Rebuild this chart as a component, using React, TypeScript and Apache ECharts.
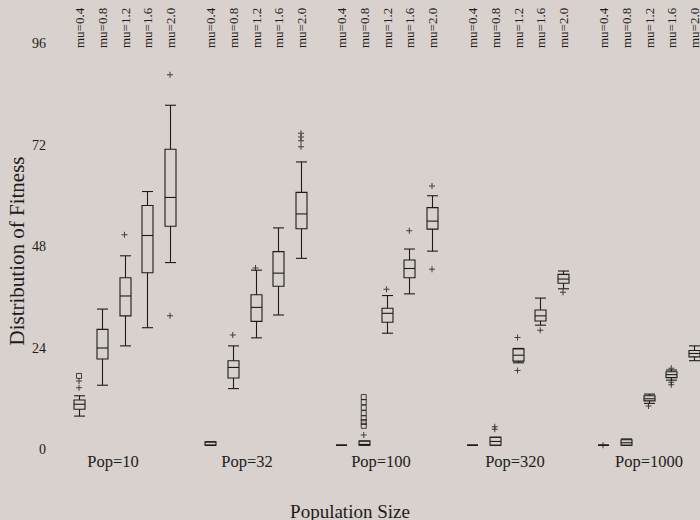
import React, { useEffect, useRef } from 'react';
import * as echarts from 'echarts';

const popLabels = ['Pop=10', 'Pop=32', 'Pop=100', 'Pop=320', 'Pop=1000'];
const muLabels = ['mu=0.4', 'mu=0.8', 'mu=1.2', 'mu=1.6', 'mu=2.0'];
const yTicks = [0, 24, 48, 72, 96];

// [lower whisker, Q1, median, Q3, upper whisker] for mu=0.4 .. mu=2.0
const pop10Boxes = [
  [7.9, 9.5, 10.7, 11.7, 12.7],
  [15.2, 21.4, 24.0, 28.4, 33.2],
  [24.5, 31.6, 36.3, 40.6, 45.8],
  [28.8, 41.8, 50.6, 57.7, 61.0],
  [44.2, 52.8, 59.6, 71.0, 81.4],
];
const pop32Boxes = [
  [1.0, 1.0, 1.0, 1.8, 1.8],
  [14.4, 16.9, 19.4, 21.0, 24.5],
  [26.4, 30.3, 33.6, 36.6, 42.4],
  [31.8, 38.6, 41.7, 46.8, 52.4],
  [45.2, 52.2, 55.7, 60.8, 68.0],
];
const pop100Boxes = [
  [1.0, 1.0, 1.0, 1.0, 1.0],
  [1.0, 1.0, 1.2, 2.0, 2.0],
  [27.5, 30.1, 32.2, 33.4, 36.4],
  [36.8, 40.6, 42.8, 44.8, 47.4],
  [46.9, 52.1, 54.0, 57.2, 60.0],
];
const pop320Boxes = [
  [1.0, 1.0, 1.0, 1.0, 1.0],
  [1.0, 1.0, 1.9, 2.9, 2.9],
  [20.5, 20.9, 22.3, 23.8, 23.9],
  [29.4, 30.4, 31.6, 33.0, 35.8],
  [38.0, 39.3, 40.3, 41.4, 42.2],
];
const pop1000Boxes = [
  [1.0, 1.0, 1.0, 1.0, 1.0],
  [1.0, 1.0, 1.6, 2.3, 2.5],
  [10.9, 11.5, 12.0, 12.7, 13.1],
  [16.4, 17.0, 17.7, 18.4, 18.8],
  [21.0, 21.9, 22.7, 23.4, 24.5],
];
const boxesByPop = [pop10Boxes, pop32Boxes, pop100Boxes, pop320Boxes, pop1000Boxes];

// outliers as [population index, mu index, value]
const plusOutliers = [
  [0, 0, 16.2], [0, 0, 14.6], [0, 2, 50.8], [0, 4, 88.6], [0, 4, 31.6],
  [1, 1, 27.1], [1, 2, 42.9], [1, 4, 71.6], [1, 4, 73.0], [1, 4, 73.9], [1, 4, 74.8],
  [2, 1, 3.4], [2, 2, 37.9], [2, 3, 51.7], [2, 4, 62.3], [2, 4, 42.6],
  [3, 1, 4.8], [3, 1, 5.4], [3, 2, 26.5], [3, 2, 18.7], [3, 3, 28.2], [3, 4, 37.2],
  [4, 0, 1.0], [4, 2, 10.3], [4, 3, 19.2], [4, 3, 15.9], [4, 3, 15.3],
];
const squareOutliers = [
  [0, 0, 17.4],
  [2, 1, 5.6], [2, 1, 6.5], [2, 1, 7.4], [2, 1, 8.6], [2, 1, 9.9], [2, 1, 11.2], [2, 1, 12.4],
];

// layout along the x value axis
const GROUP_STEP = 131;
const BOX_STEP = 22.75;
const LABEL_STEP = 134;
const LABEL_OFFSET = 34;
const FONT = '"Liberation Serif", "Times New Roman", serif';
const INK = '#1c1c1c';

const boxX = (g: number, k: number) => g * GROUP_STEP + k * BOX_STEP;

export default function App() {
  const ref = useRef<HTMLDivElement>(null);
  useEffect(() => {
    if (!ref.current) return;
    const chart = echarts.init(ref.current, null, { renderer: 'svg' });

    const boxData: number[][] = [];
    boxesByPop.forEach((boxes, g) => {
      boxes.forEach((b, k) => {
        boxData.push([boxX(g, k), b[0], b[1], b[2], b[3], b[4], k]);
      });
    });
    const plusData = plusOutliers.map(([g, k, v]) => [boxX(g, k), v]);
    const squareData = squareOutliers.map(([g, k, v]) => [boxX(g, k), v]);
    const popData = popLabels.map((_, g) => [LABEL_OFFSET + LABEL_STEP * g, g]);

    const lineStyle = { stroke: INK, lineWidth: 1.1, fill: 'none' };

    chart.setOption({
      animation: false,
      backgroundColor: '#d9d1cd',
      grid: { left: 50, right: 0, top: 43.5, bottom: 70.5 },
      xAxis: {
        type: 'value',
        min: -29,
        max: 621,
        show: false,
      },
      yAxis: {
        type: 'value',
        min: yTicks[0],
        max: yTicks[yTicks.length - 1],
        interval: 24,
        axisLine: { show: false },
        axisTick: { show: false },
        splitLine: { show: false },
        axisLabel: { fontFamily: FONT, fontSize: 14, color: INK, margin: 4 },
      },
      graphic: [
        {
          type: 'text',
          x: 350,
          y: 511,
          style: {
            text: 'Population Size',
            fontFamily: FONT,
            fontSize: 19,
            fill: INK,
            align: 'center',
            verticalAlign: 'middle',
          },
        },
        {
          type: 'text',
          x: 17,
          y: 251,
          rotation: Math.PI / 2,
          style: {
            text: 'Distribution of Fitness',
            fontFamily: FONT,
            fontSize: 21,
            fill: INK,
            align: 'center',
            verticalAlign: 'middle',
          },
        },
      ],
      series: [
        {
          type: 'custom',
          clip: false,
          data: boxData,
          renderItem: (params: any, api: any) => {
            const x = api.value(0);
            const lo = api.coord([x, api.value(1)]);
            const q1 = api.coord([x, api.value(2)]);
            const md = api.coord([x, api.value(3)]);
            const q3 = api.coord([x, api.value(4)]);
            const hi = api.coord([x, api.value(5)]);
            const k = api.value(6);
            const cx = Math.round(lo[0]) + 0.5;
            const hw = 5.5;
            return {
              type: 'group',
              children: [
                { type: 'line', shape: { x1: cx, y1: hi[1], x2: cx, y2: q3[1] }, style: lineStyle },
                { type: 'line', shape: { x1: cx, y1: q1[1], x2: cx, y2: lo[1] }, style: lineStyle },
                { type: 'line', shape: { x1: cx - hw, y1: hi[1], x2: cx + hw, y2: hi[1] }, style: lineStyle },
                { type: 'line', shape: { x1: cx - hw, y1: lo[1], x2: cx + hw, y2: lo[1] }, style: lineStyle },
                {
                  type: 'rect',
                  shape: { x: cx - hw, y: q3[1], width: hw * 2, height: q1[1] - q3[1] },
                  style: lineStyle,
                },
                { type: 'line', shape: { x1: cx - hw, y1: md[1], x2: cx + hw, y2: md[1] }, style: lineStyle },
                {
                  type: 'text',
                  x: cx,
                  y: 48,
                  rotation: Math.PI / 2,
                  style: {
                    text: muLabels[k],
                    fontFamily: FONT,
                    fontSize: 13,
                    fill: INK,
                    align: 'left',
                    verticalAlign: 'middle',
                  },
                },
              ],
            };
          },
        },
        {
          type: 'scatter',
          data: plusData,
          symbol: 'path://M2.5,0H3.5V2.5H6V3.5H3.5V6H2.5V3.5H0V2.5H2.5Z',
          symbolSize: 6,
          itemStyle: { color: INK },
          silent: true,
        },
        {
          type: 'scatter',
          data: squareData,
          symbol: 'rect',
          symbolSize: 5,
          itemStyle: { color: 'rgba(0,0,0,0)', borderColor: INK, borderWidth: 1 },
          silent: true,
        },
        {
          type: 'custom',
          clip: false,
          data: popData,
          renderItem: (params: any, api: any) => {
            const p = api.coord([api.value(0), 0]);
            return {
              type: 'text',
              x: p[0],
              y: 461,
              style: {
                text: popLabels[api.value(1)],
                fontFamily: FONT,
                fontSize: 16.5,
                fill: INK,
                align: 'center',
                verticalAlign: 'middle',
              },
            };
          },
        },
      ],
    });
    return () => chart.dispose();
  }, []);
  return (
    <div
      ref={ref}
      style={{ position: 'absolute', left: 0, top: 0, width: 700, height: 520 }}
    />
  );
}
